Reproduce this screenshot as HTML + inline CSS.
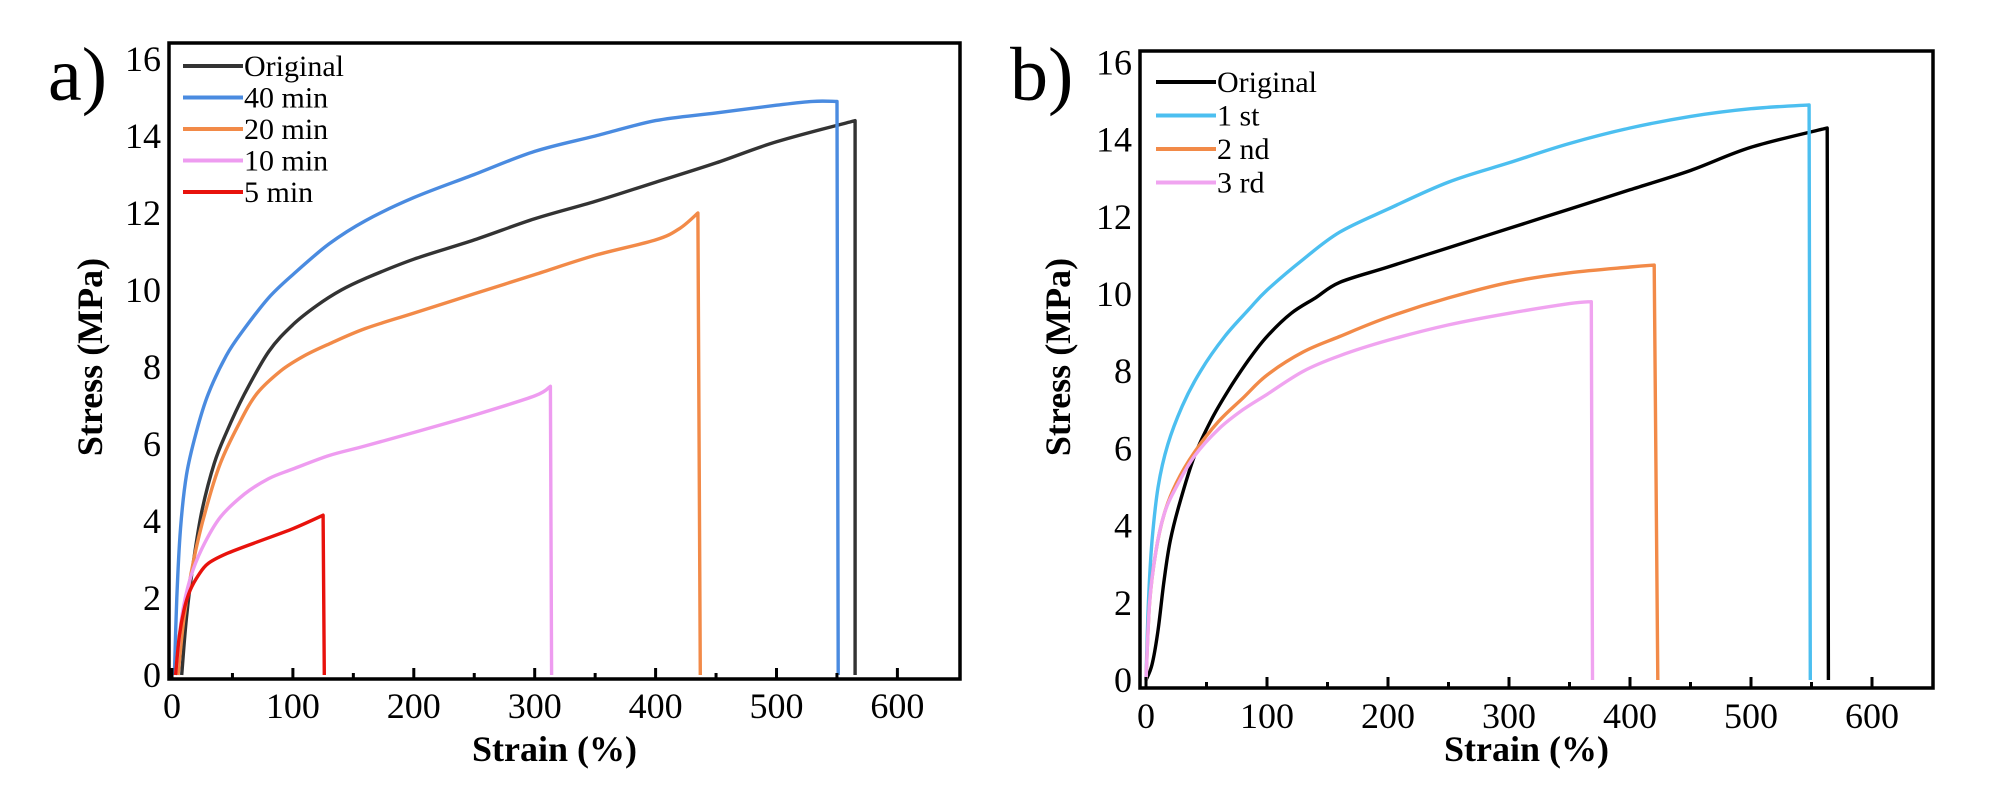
<!DOCTYPE html>
<html><head><meta charset="utf-8"><style>
html,body{margin:0;padding:0;background:#fff;}
svg{display:block;font-family:"Liberation Serif",serif;}
</style></head><body>
<svg id="fig" width="1999" height="795" viewBox="0 0 1999 795"></svg>
<script>
const xTicks=[0,100,200,300,400,500,600];
const yTicks=[0,2,4,6,8,10,12,14,16];
// Panel a series (strain %, stress MPa)
const aOrigX=[8,12,18,25,35,45,60,80,100,120,140,160,200,250,300,350,400,450,500,565,565];
const aOrigY=[0,1.5,3.0,4.3,5.5,6.3,7.3,8.4,9.1,9.6,10.0,10.3,10.8,11.3,11.85,12.3,12.8,13.3,13.85,14.4,0];
const a40X=[2,4,7,12,20,30,45,60,80,100,130,160,200,250,300,350,400,450,500,530,550,551];
const a40Y=[0,2,3.8,5.2,6.3,7.3,8.3,9.0,9.8,10.4,11.2,11.8,12.4,13.0,13.6,14.0,14.4,14.6,14.8,14.9,14.9,0];
const a20X=[5,10,18,28,40,55,70,90,110,130,160,200,250,300,350,400,420,435,437];
const a20Y=[0,1.5,3.0,4.3,5.5,6.5,7.3,7.9,8.3,8.6,9.0,9.4,9.9,10.4,10.9,11.3,11.6,12,0];
const a10X=[3,8,15,25,40,60,80,100,130,160,200,250,300,313,314];
const a10Y=[0,1.5,2.5,3.3,4.1,4.7,5.1,5.35,5.7,5.95,6.3,6.75,7.25,7.5,0];
const a5X=[3,6,10,15,22,30,45,70,100,125,126];
const a5Y=[0,1.0,1.7,2.2,2.6,2.9,3.15,3.45,3.8,4.15,0];
// Panel b series
const bOrigX=[0,5,10,15,20,28,40,55,70,85,100,120,140,160,200,250,300,350,400,450,500,563,564];
const bOrigY=[0,0.4,1.3,2.6,3.6,4.6,5.8,6.8,7.6,8.3,8.9,9.5,9.9,10.3,10.7,11.2,11.7,12.2,12.7,13.2,13.8,14.3,0];
const b1X=[0,2,5,10,18,30,45,65,85,100,130,160,200,250,300,350,400,450,500,548,549];
const b1Y=[0,2,3.6,5.0,6.1,7.1,8.0,8.9,9.6,10.1,10.9,11.6,12.2,12.9,13.4,13.9,14.3,14.6,14.8,14.9,0];
const b2X=[0,3,8,15,25,40,60,80,100,130,160,200,250,300,350,400,420,423];
const b2Y=[0,2.0,3.3,4.3,5.1,5.9,6.7,7.3,7.9,8.5,8.9,9.4,9.9,10.3,10.55,10.7,10.75,0];
const b3X=[0,3,8,15,25,40,60,80,100,130,160,200,250,300,350,368,369];
const b3Y=[0,2.0,3.3,4.3,5.0,5.8,6.5,7.0,7.4,8.0,8.4,8.8,9.2,9.5,9.75,9.8,0];

const NS="http://www.w3.org/2000/svg";
const svg=document.getElementById('fig');
function mk(tag,attrs,parent,text){const e=document.createElementNS(NS,tag);for(const k in attrs)e.setAttribute(k,attrs[k]);if(text!==undefined)e.textContent=text;(parent||svg).appendChild(e);return e;}

function smoothPath(P){
  // Catmull-Rom through all but last point, straight drop to last
  const n=P.length-1;
  let d='M'+P[0][0].toFixed(1)+','+P[0][1].toFixed(1);
  for(let i=0;i<n-1;i++){
    const p0=P[Math.max(0,i-1)],p1=P[i],p2=P[i+1],p3=P[Math.min(n-1,i+2)];
    const c1x=p1[0]+(p2[0]-p0[0])/6,c1y=p1[1]+(p2[1]-p0[1])/6;
    const c2x=p2[0]-(p3[0]-p1[0])/6,c2y=p2[1]-(p3[1]-p1[1])/6;
    d+=` C${c1x.toFixed(1)},${c1y.toFixed(1)} ${c2x.toFixed(1)},${c2y.toFixed(1)} ${p2[0].toFixed(1)},${p2[1].toFixed(1)}`;
  }
  d+=` L${P[n][0].toFixed(1)},${P[n][1].toFixed(1)}`;
  return d;
}

function panel(cfg){
  const g=mk('g',{});
  
  
  const sx=v=>cfg.x0+v*cfg.xs, sy=v=>cfg.y0-v*cfg.ys;
  cfg.series.forEach(s=>{
    const P=s.x.map((v,i)=>[sx(v),sy(s.y[i])]);
    const p=mk('path',{d:smoothPath(P),fill:'none',stroke:s.color,'stroke-width':3.4,'stroke-linejoin':'round'},g);
    
    
  });
  const fr=mk('rect',{x:cfg.L,y:cfg.T,width:cfg.R-cfg.L,height:cfg.B-cfg.T,fill:'none',stroke:'#000','stroke-width':3.5},g);
  
  
  xTicks.forEach(t=>{
    mk('line',{x1:sx(t),x2:sx(t),y1:cfg.B,y2:cfg.B-11,stroke:'#000','stroke-width':3},g);
    if(t<600)mk('line',{x1:sx(t+50),x2:sx(t+50),y1:cfg.B,y2:cfg.B-6,stroke:'#000','stroke-width':3},g);
    const tl=mk('text',{x:sx(t),y:cfg.xly,'font-size':36,'text-anchor':'middle'},g,String(t));
    
    
  });
  yTicks.forEach(t=>{
    const tl=mk('text',{x:cfg.L-8,y:sy(t)+12,'font-size':36,'text-anchor':'end'},g,String(t));
    
    
  });
  const xt=mk('text',{x:(cfg.L+cfg.R)/2-10,y:761,'font-size':36,'font-weight':'bold','text-anchor':'middle'},g,'Strain (%)');
  
  
  const yt=mk('text',{x:0,y:0,'font-size':36,'font-weight':'bold','text-anchor':'middle',transform:`translate(${cfg.ytx},357) rotate(-90)`},g,'Stress (MPa)');
  
  
  const pl=mk('text',{x:cfg.plx,y:100,'font-size':76},g,cfg.label);
  
  
  cfg.series.forEach((s,i)=>{
    const ly=cfg.legY+i*cfg.legDy;
    const le=mk('g',{},g);
    
    
    mk('line',{x1:cfg.legX,x2:cfg.legX+60,y1:ly,y2:ly,stroke:s.color,'stroke-width':4},le);
    mk('text',{x:cfg.legX+61,y:ly+10,'font-size':30},le,s.label);
  });
}

panel({name:'panel-a',label:'a)',plx:48,x0:172,xs:1.209,y0:675,ys:38.5,L:169,R:960,T:43,B:679,xly:718,ytx:102,legX:183,legY:66,legDy:31.5,
 series:[{id:'original-line',label:'Original',color:'#333333',x:aOrigX,y:aOrigY},
 {id:'40-min-line',label:'40 min',color:'#4a8be0',x:a40X,y:a40Y},
 {id:'20-min-line',label:'20 min',color:'#f28a48',x:a20X,y:a20Y},
 {id:'10-min-line',label:'10 min',color:'#ee9cf0',x:a10X,y:a10Y},
 {id:'5-min-line',label:'5 min',color:'#e8120c',x:a5X,y:a5Y}]});

panel({name:'panel-b',label:'b)',plx:1010,x0:1146,xs:1.21,y0:680,ys:38.6,L:1140,R:1933,T:51,B:688,xly:728,ytx:1070,legX:1156,legY:82,legDy:33.5,
 series:[{id:'original-line',label:'Original',color:'#000000',x:bOrigX,y:bOrigY},
 {id:'1st-line',label:'1 st',color:'#4cbff0',x:b1X,y:b1Y},
 {id:'2nd-line',label:'2 nd',color:'#f28a48',x:b2X,y:b2Y},
 {id:'3rd-line',label:'3 rd',color:'#f0a4f0',x:b3X,y:b3Y}]});
</script>
</body></html>
